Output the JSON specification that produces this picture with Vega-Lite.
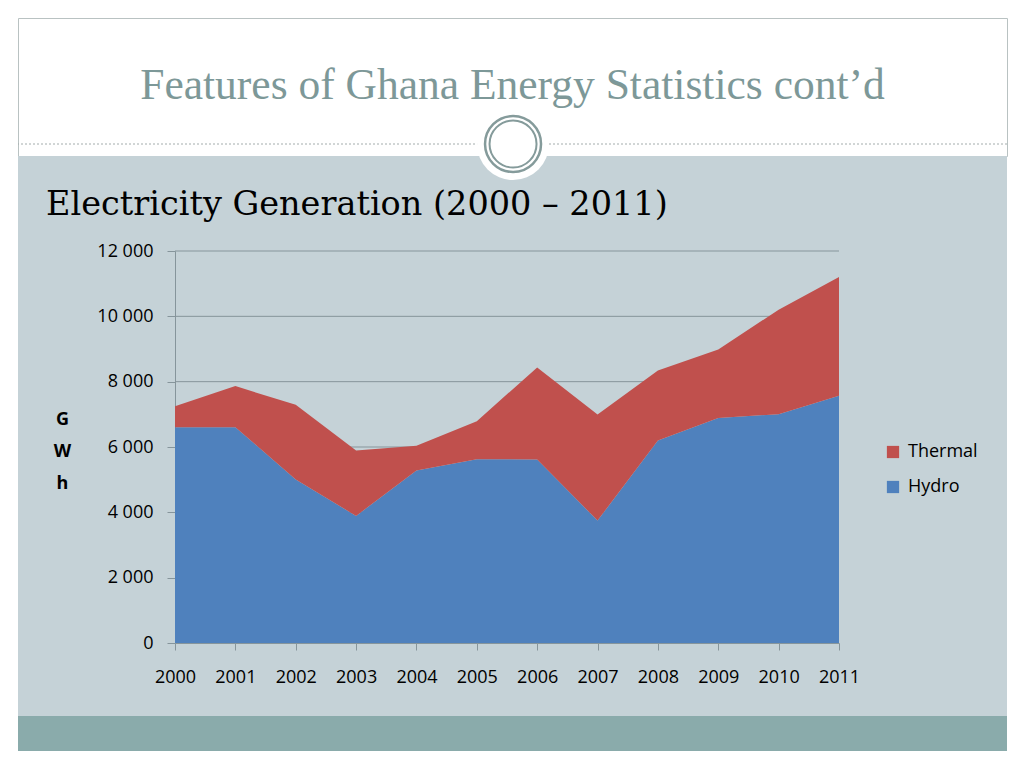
{
  "$schema": "https://vega.github.io/schema/vega-lite/v6.json",
  "background": "white",
  "padding": {"left": 17, "top": 17, "right": 18, "bottom": 18},
  "bounds": "flush",
  "spacing": 0,
  "config": {
    "font": "Open Sans",
    "view": {"stroke": null}
  },
  "vconcat": [
    {
      "width": 989,
      "height": 138,
      "view": {"fill": "white", "stroke": "#b9c2c2"},
      "data": {"values": [{"title": "Features of Ghana Energy Statistics cont’d"}]},
      "layer": [
        {
          "mark": {"type": "rule", "strokeDash": [2, 2], "color": "#a3acac", "strokeWidth": 1},
          "encoding": {
            "y": {"datum": 12, "type": "quantitative", "scale": {"domain": [0, 138], "nice": false}, "axis": null}
          }
        },
        {
          "mark": {"type": "text", "font": "Liberation Serif", "fontSize": 43.5, "color": "#7d9898", "baseline": "alphabetic", "align": "center", "dy": 12},
          "encoding": {"text": {"field": "title", "type": "nominal"}}
        }
      ]
    },
    {
      "width": 989,
      "height": 560,
      "view": {"fill": "#c5d2d7", "stroke": null},
      "title": {
        "text": "Electricity Generation (2000 – 2011)",
        "orient": "top",
        "anchor": "start",
        "frame": "group",
        "offset": -140,
        "dx": 28,
        "baseline": "alphabetic",
        "font": "DejaVu Serif",
        "fontSize": 33.5,
        "fontWeight": "normal",
        "color": "#000000"
      },
      "layer": [
        {
          "data": {"values": [{"v": 2000}, {"v": 4000}, {"v": 6000}, {"v": 8000}, {"v": 10000}, {"v": 12000}]},
          "mark": {"type": "rule", "color": "#86959b", "strokeWidth": 1},
          "encoding": {
            "y": {"field": "v", "type": "quantitative"},
            "x": {"datum": 2000, "type": "quantitative"},
            "x2": {"datum": 2011}
          }
        },
        {
          "data": {"values": [
            {"year": 2000, "series": "Hydro", "gwh": 6608},
            {"year": 2001, "series": "Hydro", "gwh": 6608},
            {"year": 2002, "series": "Hydro", "gwh": 5004},
            {"year": 2003, "series": "Hydro", "gwh": 3891},
            {"year": 2004, "series": "Hydro", "gwh": 5280},
            {"year": 2005, "series": "Hydro", "gwh": 5627},
            {"year": 2006, "series": "Hydro", "gwh": 5617},
            {"year": 2007, "series": "Hydro", "gwh": 3748},
            {"year": 2008, "series": "Hydro", "gwh": 6199},
            {"year": 2009, "series": "Hydro", "gwh": 6884},
            {"year": 2010, "series": "Hydro", "gwh": 7006},
            {"year": 2011, "series": "Hydro", "gwh": 7568},
            {"year": 2000, "series": "Thermal", "gwh": 643},
            {"year": 2001, "series": "Thermal", "gwh": 1256},
            {"year": 2002, "series": "Thermal", "gwh": 2288},
            {"year": 2003, "series": "Thermal", "gwh": 2002},
            {"year": 2004, "series": "Thermal", "gwh": 756},
            {"year": 2005, "series": "Thermal", "gwh": 1165},
            {"year": 2006, "series": "Thermal", "gwh": 2819},
            {"year": 2007, "series": "Thermal", "gwh": 3248},
            {"year": 2008, "series": "Thermal", "gwh": 2145},
            {"year": 2009, "series": "Thermal", "gwh": 2103},
            {"year": 2010, "series": "Thermal", "gwh": 3197},
            {"year": 2011, "series": "Thermal", "gwh": 3636}
          ]},
          "mark": {"type": "area", "opacity": 1},
          "encoding": {
            "x": {
              "field": "year", "type": "quantitative",
              "scale": {"domain": [2000, 2011], "range": [157, 821], "nice": false, "zero": false},
              "axis": {
                "title": null, "values": [2000, 2001, 2002, 2003, 2004, 2005, 2006, 2007, 2008, 2009, 2010, 2011],
                "format": "d", "offset": -73, "grid": false, "labelOverlap": false, "labelFlush": false,
                "domainColor": "#86959b", "tickColor": "#86959b", "tickSize": 7,
                "labelFontSize": 18, "labelColor": "#000000", "labelPadding": 18, "labelFont": "Open Sans"
              }
            },
            "y": {
              "field": "gwh", "type": "quantitative", "stack": "zero",
              "scale": {"domain": [0, 12000], "range": [487, 95], "nice": false},
              "axis": {
                "title": ["G", "W", "h"], "titleAngle": 0, "titleAlign": "center", "titleBaseline": "middle",
                "titleX": -113, "titleY": 263, "titleLineHeight": 32, "titleFontSize": 18, "titleFontWeight": "bold",
                "titleColor": "#000000", "titleFont": "Open Sans",
                "values": [0, 2000, 4000, 6000, 8000, 10000, 12000],
                "labelExpr": "replace(format(datum.value, ','), ',', ' ')",
                "offset": -157, "grid": false, "labelFlush": false,
                "domainColor": "#86959b", "tickColor": "#86959b", "tickSize": 8,
                "labelFontSize": 18, "labelColor": "#000000", "labelPadding": 14, "labelFont": "Open Sans"
              }
            },
            "color": {
              "field": "series", "type": "nominal",
              "scale": {"domain": ["Thermal", "Hydro"], "range": ["#c0504d", "#4f81bd"]},
              "legend": {
                "title": null, "orient": "none", "legendX": 866, "legendY": 425,
                "symbolType": "square", "symbolSize": 150, "symbolStrokeWidth": 0, "symbolOpacity": 1,
                "labelFontSize": 18, "labelFont": "Open Sans", "labelColor": "#000000", "rowPadding": 17, "labelOffset": 6
              }
            },
            "order": {"field": "series", "sort": "ascending"}
          }
        },
        {
          "data": {"values": [{"part": "disk"}]},
          "layer": [
            {
              "mark": {"type": "point", "shape": "circle", "filled": true, "color": "white", "size": 5184, "opacity": 1},
              "encoding": {
                "x": {"datum": 2005.6, "type": "quantitative"},
                "y": {"datum": 15275, "type": "quantitative"}
              }
            },
            {
              "mark": {"type": "point", "shape": "circle", "filled": false, "stroke": "#859b9b", "strokeWidth": 2.5, "size": 3136, "opacity": 1},
              "encoding": {
                "x": {"datum": 2005.6, "type": "quantitative"},
                "y": {"datum": 15275, "type": "quantitative"}
              }
            },
            {
              "mark": {"type": "point", "shape": "circle", "filled": false, "stroke": "#859b9b", "strokeWidth": 2, "size": 2209, "opacity": 1},
              "encoding": {
                "x": {"datum": 2005.6, "type": "quantitative"},
                "y": {"datum": 15275, "type": "quantitative"}
              }
            }
          ]
        }
      ]
    },
    {
      "width": 989,
      "height": 35,
      "view": {"fill": "#8aabab", "stroke": null},
      "data": {"values": [{"t": ""}]},
      "mark": {"type": "text"},
      "encoding": {"text": {"field": "t", "type": "nominal"}}
    }
  ]
}
